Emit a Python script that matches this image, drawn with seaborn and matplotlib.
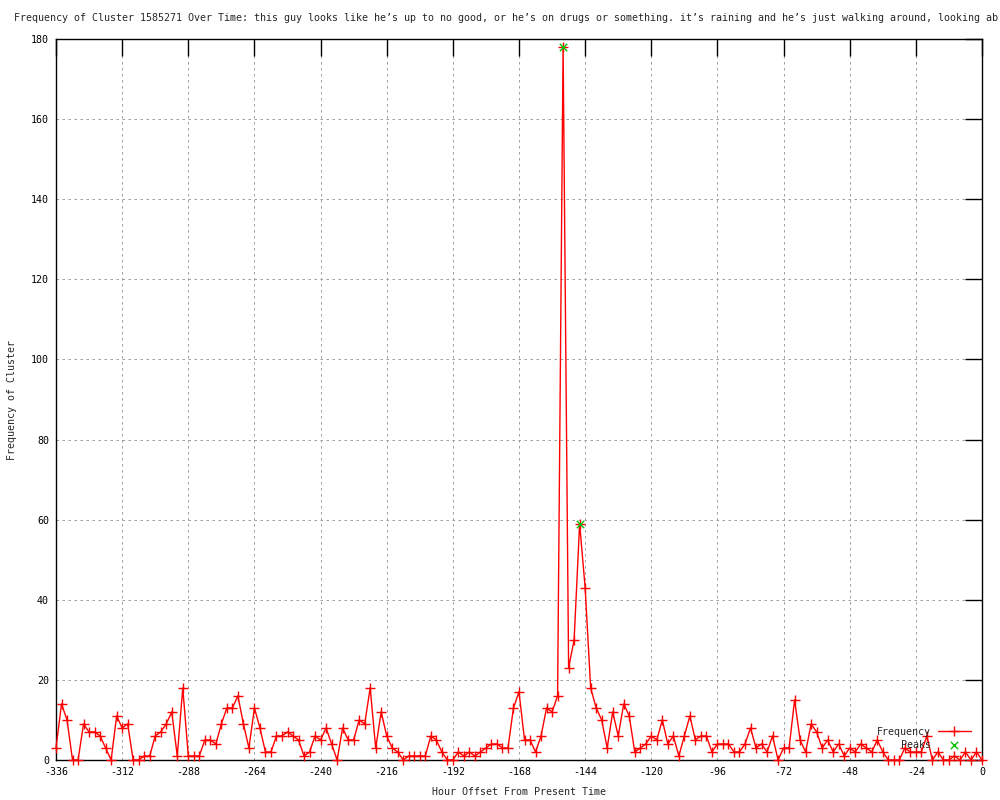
import numpy as np
import pandas as pd
import matplotlib
matplotlib.use("Agg")
import matplotlib.pyplot as plt
import seaborn as sns

# ---- data ----
hours = list(range(-336, 1, 2))
freq = [3, 14, 10, 0, 0, 9, 7, 7, 6, 3,
        0, 11, 8, 9, 0, 0, 1, 1, 6, 7,
        9, 12, 1, 18, 1, 1, 1, 5, 5, 4,
        9, 13, 13, 16, 9, 3, 13, 8, 2, 2,
        6, 6, 7, 6, 5, 1, 2, 6, 5, 8,
        4, 0, 8, 5, 5, 10, 9, 18, 3, 12,
        6, 3, 2, 0, 1, 1, 1, 1, 6, 5,
        2, 0, 0, 2, 1, 2, 1, 2, 3, 4,
        4, 3, 3, 13, 17, 5, 5, 2, 6, 13,
        12, 16, 178, 23, 30, 59, 43, 18, 13, 10,
        3, 12, 6, 14, 11, 2, 3, 4, 6, 5,
        10, 4, 6, 1, 6, 11, 5, 6, 6, 2,
        4, 4, 4, 2, 2, 4, 8, 3, 4, 2,
        6, 0, 3, 3, 15, 5, 2, 9, 7, 3,
        5, 2, 4, 1, 3, 2, 4, 3, 2, 5,
        2, 0, 0, 0, 3, 2, 2, 2, 6, 0,
        2, 0, 0, 1, 0, 2, 0, 2, 0]
peak_hours = [-152, -146]
peak_vals = [178, 59]

x_ticks = list(range(-336, 1, 24))
y_ticks = list(range(0, 181, 20))

title = ("Frequency of Cluster 1585271 Over Time: this guy looks like he\u2019s up to no good, "
         "or he\u2019s on drugs or something. it\u2019s raining and he\u2019s just walking around, "
         "looking ab")
x_label = "Hour Offset From Present Time"
y_label = "Frequency of Cluster"

df = pd.DataFrame({"hour": hours, "freq": freq})
pk = pd.DataFrame({"hour": peak_hours, "freq": peak_vals})

# ---- style ----
sns.set_style("white")
plt.rcParams["font.family"] = ["DejaVu Sans Mono"]
plt.rcParams["font.size"] = 7.2
plt.rcParams["axes.edgecolor"] = "black"
plt.rcParams["axes.linewidth"] = 1.0

fig = plt.figure(figsize=(10, 8), dpi=100)
ax = fig.add_axes([0.056, 0.05, 0.926, 0.90125])

sns.lineplot(data=df, x="hour", y="freq", ax=ax, color="#ff0000", linewidth=1.0,
             marker="+", markersize=6.5, markeredgewidth=1.0, markeredgecolor="#ff0000",
             estimator=None, label="Frequency", clip_on=False, zorder=3)
sns.scatterplot(data=pk, x="hour", y="freq", ax=ax, color="#00c000", marker="x",
                s=28, linewidth=1.0, label="Peaks", zorder=4, clip_on=False)

ax.set_xlim(-336, 0)
ax.set_ylim(0, 180)
ax.set_xticks(x_ticks)
ax.set_yticks(y_ticks)
ax.set_xticklabels([str(t) for t in x_ticks])
ax.set_yticklabels([str(t) for t in y_ticks])
ax.tick_params(axis="both", direction="in", length=12, width=1.0, colors="black",
               labelsize=7.2, top=True, right=True, pad=5)
for s in ax.spines.values():
    s.set_visible(True)
    s.set_color("black")
    s.set_linewidth(1.0)

ax.grid(True, color="#a0a0a0", linestyle=(0, (2.5, 3.5)), linewidth=0.72, zorder=0)
ax.set_axisbelow(True)

ax.set_xlabel(x_label, fontsize=7.2, labelpad=7)
ax.set_ylabel(y_label, fontsize=7.2, labelpad=10)

leg = ax.legend(loc="lower right", bbox_to_anchor=(0.988, 0.014), frameon=False,
                markerfirst=False, fontsize=7.2, handlelength=3.3, handletextpad=0.7,
                labelspacing=0.3, borderaxespad=0, borderpad=0)

fig.text(0.014, 1 - 18 / 800, title, ha="left", va="center", fontsize=7.2)

fig.savefig("out.png", dpi=100)
